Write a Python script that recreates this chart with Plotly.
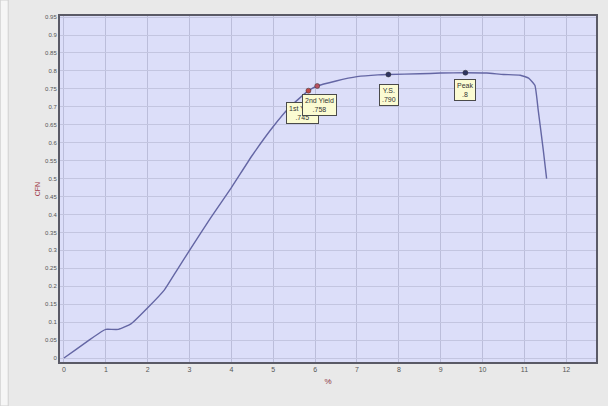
import plotly.graph_objects as go

# Stress-strain style curve: strain (%) vs CFN
strain = [0, 0.3, 0.6, 0.9, 1.0, 1.3, 1.6, 2.0, 2.4, 2.7, 3.0, 3.5, 4.0, 4.5,
          5.0, 5.4, 5.84, 6.05, 6.5, 7.0, 7.5, 7.75, 8.5, 9.0, 9.59, 10.1,
          10.5, 10.9, 11.1, 11.25, 11.33, 11.45, 11.53]
cfn = [0, 0.025, 0.05, 0.074, 0.08, 0.08, 0.095, 0.14, 0.19, 0.245, 0.30,
       0.39, 0.475, 0.565, 0.645, 0.70, 0.745, 0.758, 0.772, 0.784, 0.789,
       0.79, 0.792, 0.794, 0.795, 0.794, 0.79, 0.788, 0.78, 0.76, 0.69,
       0.58, 0.50]

# Marked points on the curve
point_names = ["1st Yield", "2nd Yield", "Y.S.", "Peak"]
point_x = [5.84, 6.05, 7.75, 9.59]
point_y = [0.745, 0.758, 0.79, 0.795]
point_colors = ["#c04848", "#b85060", "#2e3460", "#2e3460"]
label_digits = [3, 3, 3, 1]

x_ticks = list(range(0, 13))
y_ticks = [round(i * 0.05, 2) for i in range(0, 20)]
y_tick_text = ["0" if v == 0 else f"{v:g}" for v in y_ticks]

fig = go.Figure()

fig.add_trace(go.Scatter(
    x=strain, y=cfn, mode="lines",
    line=dict(color="#6466a4", width=1.4, shape="spline", smoothing=0.4),
    hoverinfo="skip", showlegend=False,
))

fig.add_trace(go.Scatter(
    x=point_x, y=point_y, mode="markers",
    marker=dict(color=point_colors, size=5, line=dict(color="#333", width=0.5)),
    showlegend=False,
))

# Label boxes under the marked points
offsets = {"1st Yield": (-6, -22), "2nd Yield": (2, -19),
           "Y.S.": (1, -20), "Peak": (0, -17)}
for name, px, py, nd in zip(point_names, point_x, point_y, label_digits):
    dx, dy = offsets[name]
    value_txt = f"{py:.{nd}f}".lstrip("0")
    fig.add_annotation(
        x=px, y=py, xshift=dx, yshift=dy, showarrow=False,
        text=f"{name}<br>{value_txt}", font=dict(size=7, color="#333",
                                                 family="Arial"),
        bgcolor="#fbfbd2", bordercolor="#4a4a4a", borderwidth=1, borderpad=2,
    )

fig.update_layout(
    width=608, height=406,
    margin=dict(l=60, r=10, t=16, b=44),
    paper_bgcolor="#e9e9e9",
    plot_bgcolor="#dcdef9",
    font=dict(family="Arial", size=7, color="#555"),
    xaxis=dict(
        range=[-0.095, 12.71], tickvals=x_ticks, ticktext=[str(v) for v in x_ticks],
        showgrid=True, gridcolor="#bbbdda", gridwidth=1,
        zeroline=False, showline=True, linecolor="#5a5a66", linewidth=2,
        mirror=True, ticks="", tickfont=dict(size=7, color="#555"),
        title=dict(text="%", font=dict(size=8, color="#8a3040"), standoff=6),
    ),
    yaxis=dict(
        range=[-0.011, 0.953], tickvals=y_ticks, ticktext=y_tick_text,
        showgrid=True, gridcolor="#c3c5e0", gridwidth=1,
        zeroline=False, showline=True, linecolor="#5a5a66", linewidth=2,
        mirror=True, ticks="", tickfont=dict(size=6, color="#555"),
        title=dict(text="CFN", font=dict(size=7, color="#a03848"), standoff=4),
    ),
)

# thin lighter strip along the left edge of the window
fig.add_shape(type="rect", xref="paper", yref="paper",
              x0=-60 / 538, x1=-52 / 538, y0=-44 / 346, y1=16 / 346 + 1,
              fillcolor="#f6f6f6", line=dict(color="#d0d0d0", width=1),
              layer="below")

fig.write_html("out.html")
